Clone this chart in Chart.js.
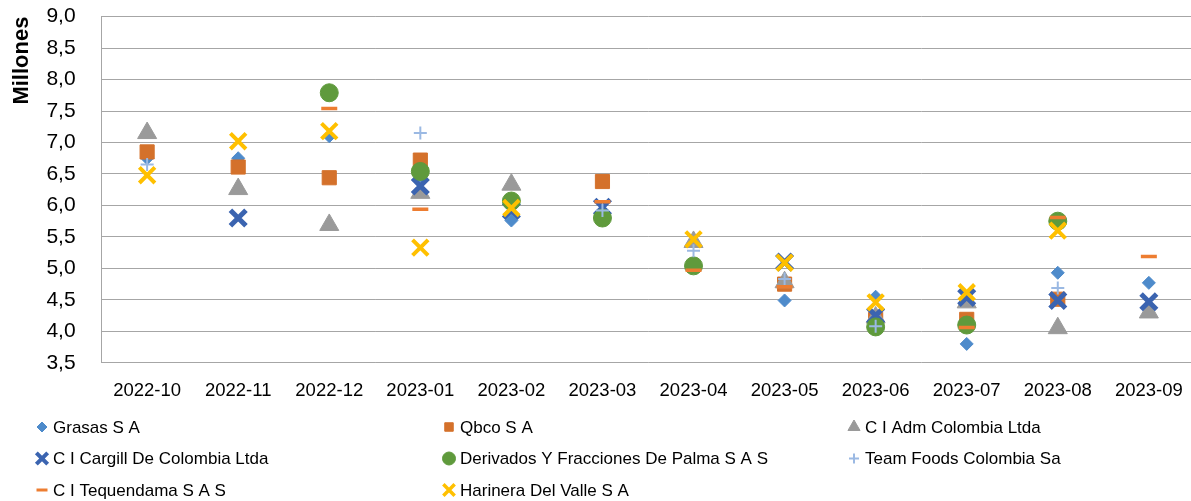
<!DOCTYPE html>
<html>
<head>
<meta charset="utf-8">
<script src="https://cdn.jsdelivr.net/npm/chart.js@4/dist/chart.umd.min.js"></script>
<style>
  html, body { margin: 0; padding: 0; background: #fff; overflow: hidden; }
  #wrap { width: 1191px; height: 501px; overflow: hidden; }
</style>
</head>
<body>
<div id="wrap"><canvas id="chart" width="1200" height="501"></canvas></div>
<script>
// categories (months) and values in millions
const categories = ['2022-10', '2022-11', '2022-12', '2023-01', '2023-02', '2023-03',
                    '2023-04', '2023-05', '2023-06', '2023-07', '2023-08', '2023-09'];

const grasas     = [6.75, 6.75, 7.10, 6.42, 5.76, null, null, 4.49, 4.55, 3.80, 4.93, 4.77];
const qbco       = [6.85, 6.61, 6.44, 6.72, null, 6.38, null, 4.75, 4.19, 4.19, 4.51, null];
const admColombia = [7.15, 6.26, 5.69, 6.20, 6.33, null, 5.42, 4.78, 4.22, 4.46, 4.05, 4.30];
const cargill    = [null, 5.80, null, 6.31, 5.92, 5.97, null, 5.10, 4.25, 4.54, 4.49, 4.47];
const derivados  = [null, null, 7.79, 6.54, 6.07, 5.80, 5.04, null, 4.07, 4.10, 5.75, null];
const teamFoods  = [6.65, null, null, 7.15, null, 5.92, 5.28, 4.83, 4.08, null, 4.69, null];
const tequendama = [null, null, 7.54, 5.94, null, 6.06, 4.97, 4.71, null, 4.06, 5.81, 5.19];
const harinera   = [6.48, 7.02, 7.18, 5.33, 5.96, null, 5.46, 5.09, 4.46, 4.62, 5.60, null];

const yTicks = { min: 3.5, max: 9.0, step: 0.5 };

const FONT = "'Liberation Sans', Arial, sans-serif";

// series styling
const SERIES = [
  { label: 'Grasas S A', data: grasas, style: 'rectRot', color: '#4E8BCB', r: 6.5, bw: 1, lr: 5, lbw: 1 },
  { label: 'Qbco S A', data: qbco, style: 'rect', color: '#D4712B', r: 10, bw: 1, lr: 6, lbw: 1 },
  { label: 'C I Adm Colombia Ltda', data: admColombia, style: 'triangle', color: '#9A9A9A', r: 11, bw: 1, lr: 7, lbw: 1 },
  { label: 'C I Cargill De Colombia Ltda', data: cargill, style: 'crossRot', color: '#3B64B0', r: 11, bw: 5, lr: 8, lbw: 4 },
  { label: 'Derivados Y Fracciones De Palma S A S', data: derivados, style: 'circle', color: '#5F9A3C', r: 9, bw: 1, lr: 6.5, lbw: 1 },
  { label: 'Team Foods Colombia Sa', data: teamFoods, style: 'cross', color: '#9BB9E3', r: 6.5, bw: 2, lr: 5, lbw: 2 },
  { label: 'C I Tequendama S A S', data: tequendama, style: 'line', color: '#ED7D31', r: 8, bw: 3.5, lr: 5.5, lbw: 3 },
  { label: 'Harinera Del Valle S A', data: harinera, style: 'crossRot', color: '#FFC000', r: 11, bw: 4, lr: 8, lbw: 3.5 },
];

const LEGEND_X = [42, 449, 854];
const LEGEND_Y = [427, 458.5, 490];

const gridLegend = {
  id: 'gridLegend',
  afterDraw(chart) {
    const ctx = chart.ctx;
    chart.data.datasets.forEach((ds, i) => {
      const x = LEGEND_X[i % 3];
      const y = LEGEND_Y[Math.floor(i / 3)];
      ctx.save();
      ctx.fillStyle = ds.pointBackgroundColor;
      ctx.strokeStyle = ds.pointBorderColor;
      ctx.lineWidth = ds.legendBorder;
      Chart.helpers.drawPoint(ctx, {
        pointStyle: ds.pointStyle, radius: ds.legendRadius, rotation: 0, borderWidth: ds.legendBorder
      }, x, y);
      ctx.fillStyle = '#000';
      ctx.font = '17px ' + FONT;
      ctx.textBaseline = 'middle';
      ctx.textAlign = 'left';
      ctx.fillText(ds.label, x + 11, y + 1);
      ctx.restore();
    });
  }
};

new Chart(document.getElementById('chart').getContext('2d'), {
  type: 'line',
  data: {
    labels: categories,
    datasets: SERIES.map((s, i) => ({
      label: s.label,
      data: s.data,
      showLine: false,
      order: SERIES.length - i,
      pointStyle: s.style,
      pointRadius: s.r,
      pointHoverRadius: s.r,
      pointBorderWidth: s.bw,
      pointBackgroundColor: s.color,
      pointBorderColor: s.color,
      borderColor: s.color,
      backgroundColor: s.color,
      legendRadius: s.lr,
      legendBorder: s.lbw,
    }))
  },
  options: {
    responsive: false,
    animation: false,
    devicePixelRatio: 1,
    layout: { autoPadding: false, padding: { top: 0, right: 5, bottom: 82, left: 1 } },
    plugins: {
      legend: { display: false },
      tooltip: { enabled: false },
      title: { display: false }
    },
    scales: {
      x: {
        type: 'category',
        offset: true,
        grid: { display: false, drawTicks: false },
        border: { display: false },
        ticks: { color: '#000', padding: 17, maxRotation: 0, autoSkip: false, font: { family: FONT, size: 18.5 } }
      },
      y: {
        min: yTicks.min,
        max: yTicks.max,
        ticks: {
          stepSize: yTicks.step,
          autoSkip: false,
          color: '#000',
          padding: 4,
          font: { family: FONT, size: 21 },
          callback: v => v.toFixed(1).replace('.', ',')
        },
        grid: { color: '#A6A6A6', lineWidth: 1, drawTicks: true, tickLength: 22, tickColor: 'rgba(0,0,0,0)' },
        border: { display: true, color: '#A6A6A6', width: 1 },
        title: {
          display: true,
          text: 'Millones',
          align: 'end',
          color: '#000',
          padding: { top: 8, bottom: 7 },
          font: { family: FONT, size: 22, weight: 'bold' }
        }
      }
    }
  },
  plugins: [gridLegend]
});
</script>
</body>
</html>
